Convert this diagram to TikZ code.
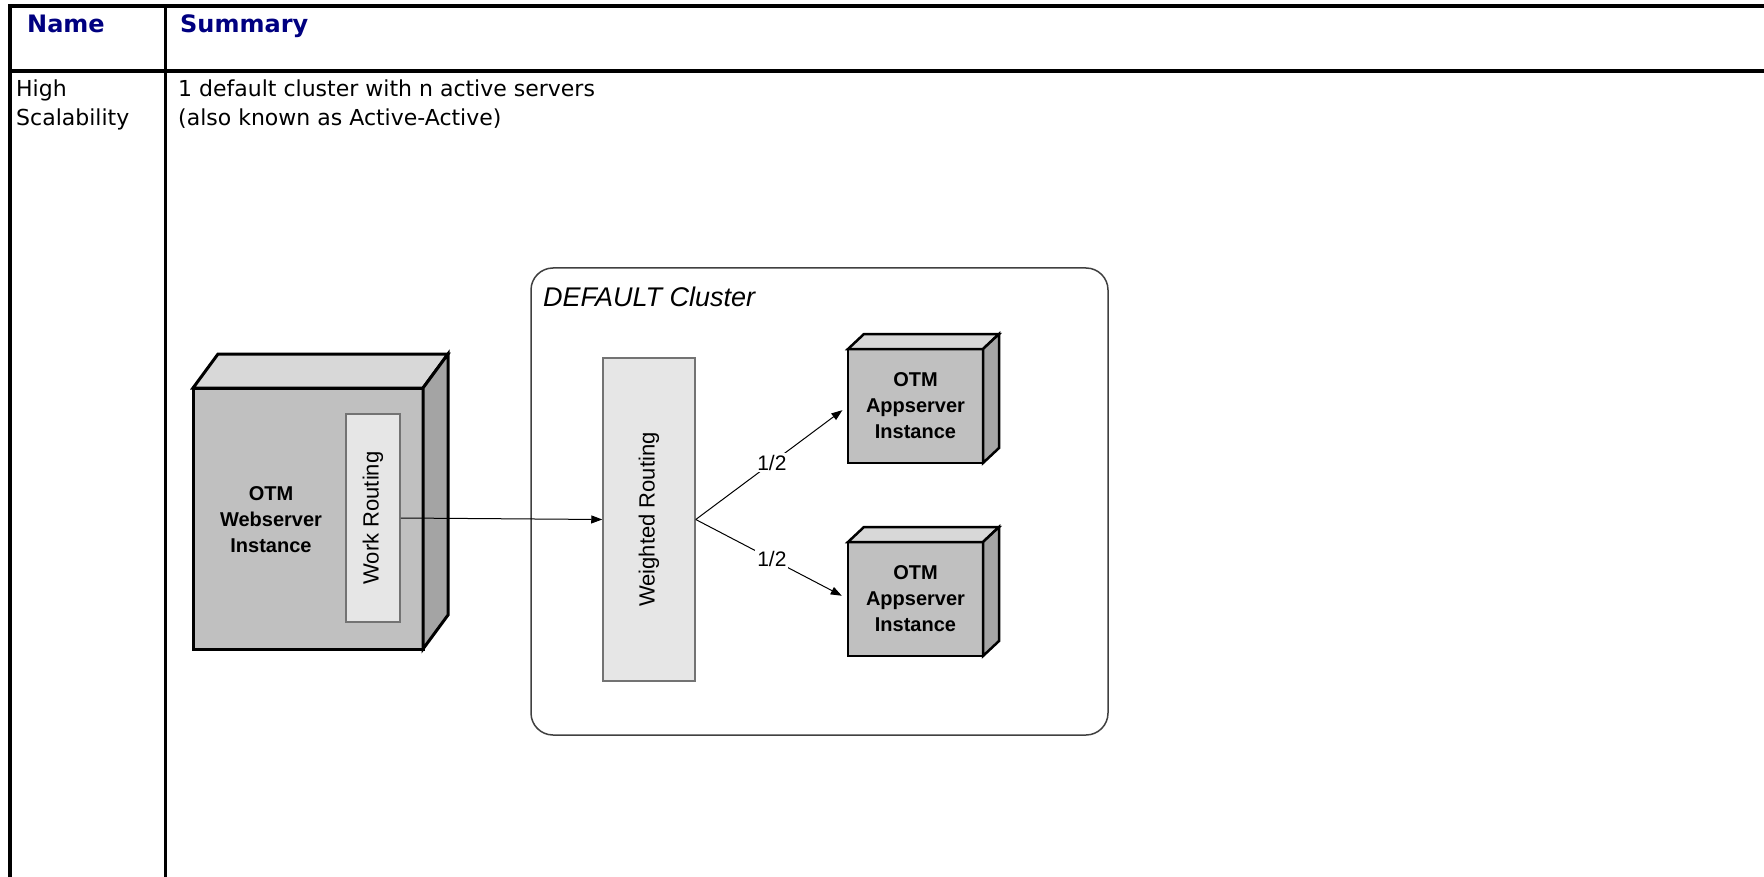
\documentclass[tikz,border=0pt]{standalone}
\usepackage{fontspec}
\setmainfont{DejaVu Sans}
\newfontfamily\arialfont{Liberation Sans}
\usetikzlibrary{positioning, arrows.meta}

\definecolor{headblue}{RGB}{0,0,128}
\definecolor{frontgray}{RGB}{192,192,192}
\definecolor{topgray}{RGB}{216,216,216}
\definecolor{sidegray}{RGB}{164,164,164}
\definecolor{bargray}{RGB}{230,230,230}

\begin{document}
\begin{tikzpicture}[x=1pt, y=-1pt,
    rule/.style = {line width=3.5pt},
    headtext/.style = {anchor=base west, inner sep=0pt, text=headblue,
        font=\fontsize{24}{28}\selectfont\bfseries},
    celltext/.style = {anchor=north west, inner sep=0pt, align=left,
        font=\fontsize{22}{28.5}\selectfont},
    cubefront/.style = {draw, line width=3pt, outer sep=0pt, fill=frontgray,
        align=center, font=\arialfont\fontsize{20}{26}\selectfont\bfseries},
    cubetop/.style = {draw, line width=3pt, fill=topgray},
    cubeside/.style = {draw, line width=3pt, fill=sidegray},
    routing/.style = {draw=black!55, line width=1.5pt, fill=bargray, inner sep=0pt},
    routelabel/.style = {rotate=90, font=\arialfont\fontsize{22}{26}\selectfont},
    share/.style = {midway, fill=white, inner sep=2pt,
        font=\arialfont\fontsize{21}{25}\selectfont},
    link/.style = {-{Triangle[length=11pt, width=8pt]}, line width=1pt}
]
\useasboundingbox (0,0) rectangle (1764,877);

% table frame
\draw [rule] (8.25,6) -- (1764,6);
\draw [rule] (8.25,71) -- (1764,71);
\draw [rule] (10,4.25) -- (10,877);
\draw [rule] (165.5,4.25) -- (165.5,877);

\node [headtext] (name) at (27,33) {Name};
\node [headtext] (summary) at (180,33) {Summary};
\node [celltext] (pattern) at (16,80) {High\\Scalability};
\node [celltext] (desc) at (178,80) {1 default cluster with n active servers\\(also known as Active-Active)};

% cluster
\node [draw=black!75, line width=1.5pt, rounded corners=22pt, minimum width=577pt,
    minimum height=467pt] (cluster) at (819.5,501.5) {};
\node [anchor=base west, inner sep=0pt, font=\arialfont\fontsize{27}{32}\selectfont\itshape]
    (clustername) at (543,306) {DEFAULT Cluster};

% webserver
\node [cubefront, minimum width=230pt, minimum height=261pt] (web) at (308,518.5) {};
\draw [cubetop] (web.north west) -- ++(25,-34) -- ++(230,0) -- (web.north east) -- cycle;
\draw [cubeside] (web.north east) -- ++(25,-34) -- ++(0,261) -- (web.south east) -- cycle;
\node [align=center, font=\arialfont\fontsize{20}{26}\selectfont\bfseries] (webname)
    at (271,520) {OTM\\Webserver\\Instance};

\node [routing, minimum width=54pt, minimum height=208pt] (work) at (373,518) {};
\node [routelabel] (worklabel) at (work.center) {Work Routing};

\node [routing, minimum width=92pt, minimum height=323pt] (weighted) at (649,519.5) {};
\node [routelabel] (weightedlabel) at (weighted.center) {Weighted Routing};

% appservers
\node [cubefront, line width=2.5pt, minimum width=135pt, minimum height=114pt] (app1)
    at (915.5,406) {OTM\\Appserver\\Instance};
\node [cubefront, line width=2.5pt, minimum width=135pt, minimum height=114pt,
    below = 79pt of app1] (app2) {OTM\\Appserver\\Instance};
\foreach \app in {app1, app2} {
    \draw [cubetop, line width=2.5pt] (\app.north west) -- ++(16,-15) -- ++(135,0) -- (\app.north east) -- cycle;
    \draw [cubeside, line width=2.5pt] (\app.north east) -- ++(16,-15) -- ++(0,114) -- (\app.south east) -- cycle;
}

\draw [link] (work.east) -- (weighted.west);
\draw [link, shorten >=7pt] (weighted.east) -- (app1.west) node [share] {1/2};
\draw [link, shorten >=7pt] (weighted.east) -- (app2.west) node [share] {1/2};
\end{tikzpicture}
\end{document}
